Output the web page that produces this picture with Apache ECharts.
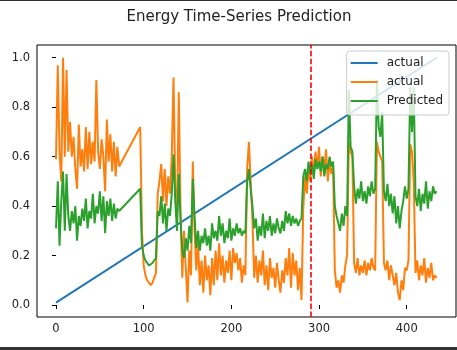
<!DOCTYPE html>
<html>
<head>
<meta charset="utf-8">
<script src="https://cdn.jsdelivr.net/npm/echarts@6/dist/echarts.min.js"></script>
<style>
  html, body { margin: 0; padding: 0; background: #ffffff; }
  #chart { width: 457px; height: 350px; }
</style>
</head>
<body>
<div id="chart"></div>
<script>
// ---- data ----
const chartTitle = 'Energy Time-Series Prediction';
const segmentA = [0, 72];    // first block of time steps (step 2)
const segmentB = [96, 434];  // second block of time steps (step 2)
const timeStep = 2;

const actualValues = [
  0.59,0.97,0.62,0.50,1.00,0.60,0.95,0.62,0.74,0.60,
  0.68,0.55,0.47,0.73,0.56,0.63,0.54,0.72,0.55,0.70,
  0.57,0.66,0.58,0.91,0.62,0.55,0.67,0.60,0.46,0.75,
  0.58,0.69,0.54,0.66,0.52,0.64,0.56,
  0.72,0.30,0.16,0.12,0.10,0.09,0.08,0.09,0.11,0.13,
  0.45,0.50,0.57,0.42,0.55,0.40,0.52,0.45,0.60,0.92,
  0.48,0.35,0.86,0.38,0.11,0.30,0.15,0.01,0.22,0.12,
  0.58,0.30,0.14,0.25,0.08,0.18,0.05,0.20,0.10,0.16,
  0.04,0.19,0.08,0.22,0.10,0.25,0.12,0.20,0.09,0.18,
  0.13,0.22,0.10,0.23,0.17,0.21,0.14,0.19,0.09,0.16,
  0.12,0.55,0.66,0.50,0.35,0.11,0.20,0.09,0.18,0.12,
  0.22,0.08,0.16,0.06,0.19,0.11,0.15,0.07,0.17,0.10,
  0.05,0.14,0.09,0.19,0.12,0.23,0.07,0.21,0.12,0.18,
  0.06,0.15,0.02,0.39,0.52,0.45,0.55,0.50,0.60,0.53,
  0.62,0.55,0.64,0.52,0.60,0.55,0.63,0.50,0.58,0.53,
  0.56,0.14,0.07,0.10,0.05,0.12,0.09,0.16,0.20,0.66,
  0.62,0.60,0.17,0.13,0.19,0.12,0.16,0.13,0.18,0.12,
  0.17,0.14,0.19,0.15,0.14,0.66,0.62,0.60,0.58,0.17,
  0.14,0.18,0.10,0.16,0.12,0.08,0.13,0.05,0.02,0.10,
  0.06,0.15,0.14,0.18,0.65,0.62,0.50,0.13,0.18,0.10,
  0.16,0.12,0.19,0.09,0.15,0.11,0.17,0.10,0.12,0.11
];

const predictedValues = [
  0.31,0.50,0.24,0.42,0.54,0.30,0.53,0.36,0.30,0.38,
  0.33,0.40,0.26,0.36,0.32,0.39,0.34,0.43,0.31,0.38,
  0.35,0.45,0.33,0.40,0.37,0.46,0.34,0.44,0.29,0.42,
  0.36,0.43,0.34,0.41,0.35,0.39,0.38,
  0.47,0.24,0.20,0.18,0.17,0.16,0.155,0.17,0.18,0.19,
  0.38,0.36,0.44,0.33,0.41,0.30,0.39,0.36,0.45,0.61,
  0.42,0.30,0.53,0.35,0.22,0.19,0.27,0.22,0.32,0.25,
  0.51,0.36,0.23,0.30,0.22,0.28,0.25,0.31,0.24,0.28,
  0.22,0.33,0.27,0.30,0.26,0.36,0.28,0.33,0.25,0.30,
  0.27,0.35,0.26,0.31,0.28,0.33,0.29,0.31,0.28,0.30,
  0.29,0.50,0.55,0.47,0.40,0.31,0.35,0.26,0.32,0.28,
  0.37,0.27,0.34,0.30,0.36,0.28,0.33,0.29,0.35,0.31,
  0.29,0.34,0.30,0.38,0.33,0.37,0.32,0.36,0.33,0.35,
  0.32,0.34,0.35,0.52,0.55,0.50,0.58,0.53,0.57,0.51,
  0.59,0.55,0.58,0.54,0.60,0.52,0.57,0.55,0.60,0.56,
  0.58,0.40,0.36,0.33,0.30,0.37,0.32,0.40,0.36,0.87,
  0.64,0.62,0.48,0.41,0.47,0.43,0.50,0.42,0.46,0.41,
  0.48,0.44,0.50,0.45,0.47,0.91,0.72,0.68,0.78,0.46,
  0.42,0.49,0.40,0.45,0.37,0.44,0.33,0.40,0.31,0.38,
  0.42,0.48,0.43,0.47,0.88,0.70,0.88,0.44,0.40,0.47,
  0.38,0.45,0.41,0.50,0.39,0.46,0.42,0.48,0.45,0.46
];

const trendTimes = [0, 434];
const trendValues = [0.01, 1.0];
const splitTime = 290;

const xTickValues = [0, 100, 200, 300, 400];
const yTickValues = [0, 0.2, 0.4, 0.6, 0.8, 1.0];

// ---- build ----
const timeSteps = [];
for (let t = segmentA[0]; t <= segmentA[1]; t += timeStep) timeSteps.push(t);
for (let t = segmentB[0]; t <= segmentB[1]; t += timeStep) timeSteps.push(t);

const pair = (xs, ys) => xs.map((x, i) => [x, ys[i]]);

const font = 'DejaVu Sans';
const chart = echarts.init(document.getElementById('chart'), null, { renderer: 'canvas' });

chart.setOption({
  animation: false,
  backgroundColor: '#ffffff',
  grid: {
    left: 37, right: 1, top: 45, bottom: 33,
    show: true, borderColor: '#000000', borderWidth: 1,
    backgroundColor: 'transparent'
  },
  xAxis: {
    type: 'value', min: -21.7, max: 456.2,
    axisLine: { show: false },
    splitLine: { show: false },
    axisTick: { show: true, length: 4, lineStyle: { color: '#000' }, customValues: xTickValues },
    axisLabel: { customValues: xTickValues, color: '#222', fontSize: 11.5, fontFamily: font, margin: 6 }
  },
  yAxis: {
    type: 'value', min: -0.0485, max: 1.0515,
    axisLine: { show: false },
    splitLine: { show: false },
    axisTick: { show: true, length: 4, lineStyle: { color: '#000' }, customValues: yTickValues },
    axisLabel: { customValues: yTickValues, color: '#222', fontSize: 11.5, fontFamily: font, margin: 7,
      formatter: v => v.toFixed(1) }
  },
  legend: {
    orient: 'vertical', right: 8, top: 51,
    padding: [5, 6, 7, 4],
    itemGap: 5, itemWidth: 27, itemHeight: 2, icon: 'rect',
    backgroundColor: 'rgba(255,255,255,0.8)',
    borderColor: '#cccccc', borderWidth: 1, borderRadius: 3,
    textStyle: { fontFamily: font, fontSize: 12, color: '#222', lineHeight: 14, padding: [0, 0, 0, 4] },
    data: ['actual', 'actual2', 'Predicted'],
    formatter: name => (name === 'actual2' ? 'actual' : name)
  },
  graphic: [
    { type: 'text', x: 239, y: 17.5, silent: true,
      style: { text: chartTitle, font: '15px "DejaVu Sans"', fill: '#222',
               textAlign: 'center', textVerticalAlign: 'middle' } },
    { type: 'rect', shape: { x: 0, y: 0, width: 457, height: 1 }, style: { fill: '#333' }, silent: true },
    { type: 'rect', shape: { x: 0, y: 347, width: 457, height: 3 }, style: { fill: '#333' }, silent: true }
  ],
  series: [
    {
      name: 'actual', type: 'line', data: pair(trendTimes, trendValues),
      symbol: 'none', lineStyle: { color: '#1f77b4', width: 2 }, itemStyle: { color: '#1f77b4' }
    },
    {
      name: 'actual2', type: 'line', data: pair(timeSteps, actualValues),
      symbol: 'none', lineStyle: { color: '#ff7f0e', width: 2 }, itemStyle: { color: '#ff7f0e' }
    },
    {
      name: 'Predicted', type: 'line', data: pair(timeSteps, predictedValues),
      symbol: 'none', lineStyle: { color: '#2ca02c', width: 2 }, itemStyle: { color: '#2ca02c' },
      markLine: {
        silent: true, symbol: ['none', 'none'], label: { show: false },
        lineStyle: { color: '#ff0000', type: [5.5, 2.4], width: 1.6 },
        data: [{ xAxis: splitTime }]
      }
    }
  ]
});
</script>
</body>
</html>
